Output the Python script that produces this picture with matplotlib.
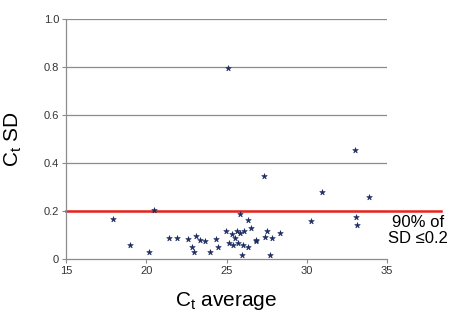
import numpy as np
import matplotlib
matplotlib.use('Agg')
import matplotlib.pyplot as plt

plt.rcParams['font.family'] = ['Liberation Sans', 'DejaVu Sans']

# Ct average vs Ct SD for each assay
ct_average = [25.11, 33.01, 27.31, 30.96, 33.90, 20.49, 25.82, 17.94, 33.07, 26.34,
              30.25, 33.13, 26.54, 24.99, 25.65, 26.09, 27.50, 25.32, 25.82, 28.33,
              25.55, 27.37, 27.83, 21.40, 21.94, 22.61, 23.12, 23.33, 23.66, 24.33,
              26.81, 26.85, 25.16, 25.38, 25.73, 26.04, 26.34, 18.98, 22.88, 24.47,
              20.18, 22.96, 23.95, 25.96, 27.68]
ct_sd = [0.796, 0.455, 0.345, 0.280, 0.259, 0.206, 0.186, 0.168, 0.177, 0.164,
         0.160, 0.142, 0.129, 0.117, 0.117, 0.117, 0.117, 0.104, 0.110, 0.108,
         0.088, 0.090, 0.086, 0.088, 0.086, 0.082, 0.096, 0.081, 0.075, 0.082,
         0.079, 0.075, 0.065, 0.057, 0.065, 0.057, 0.051, 0.057, 0.049, 0.049,
         0.031, 0.028, 0.031, 0.018, 0.018]

threshold = 0.2
x_ticks = [15, 20, 25, 30, 35]
y_ticks = [0, 0.2, 0.4, 0.6, 0.8, 1.0]
y_tick_labels = ['0', '0.2', '0.4', '0.6', '0.8', '1.0']

fig = plt.figure(figsize=(4.5, 3.28), dpi=100)
ax = fig.add_axes([0.1467, 0.2104, 0.7133, 0.7316])

# horizontal grid
for yv in y_ticks[1:]:
    ax.plot([15, 35], [yv, yv], color='#8c8c8c', lw=0.9, zorder=1)

# threshold line runs past the plot edge
ax.plot([15, 38.35], [threshold, threshold], color='#e8231c', lw=1.8,
        clip_on=False, zorder=2)

ax.scatter(ct_average, ct_sd, marker='*', s=18, color='#1c2c60',
           edgecolors='#1c2c60', linewidths=0.4, zorder=3)

ax.set_xlim(15, 35)
ax.set_ylim(0, 1.0)
ax.set_xticks(x_ticks)
ax.set_yticks(y_ticks)
ax.set_yticklabels(y_tick_labels)

for side in ['top', 'right']:
    ax.spines[side].set_visible(False)
for side in ['left', 'bottom']:
    ax.spines[side].set_color('#8c8c8c')
    ax.spines[side].set_linewidth(0.9)
ax.tick_params(axis='both', direction='out', length=3, width=0.8,
               color='#8c8c8c', labelsize=8, labelcolor='#333333', pad=2)

ax.set_xlabel('C$_\\mathregular{t}$ average', fontsize=15, labelpad=10)
ax.set_ylabel('C$_\\mathregular{t}$ SD', fontsize=15, labelpad=14)

ax.text(36.95, 0.183, '90% of\nSD \u22640.2', fontsize=12, ha='center',
        va='top', linespacing=1.05, clip_on=False)

fig.savefig('out.png', dpi=100)
